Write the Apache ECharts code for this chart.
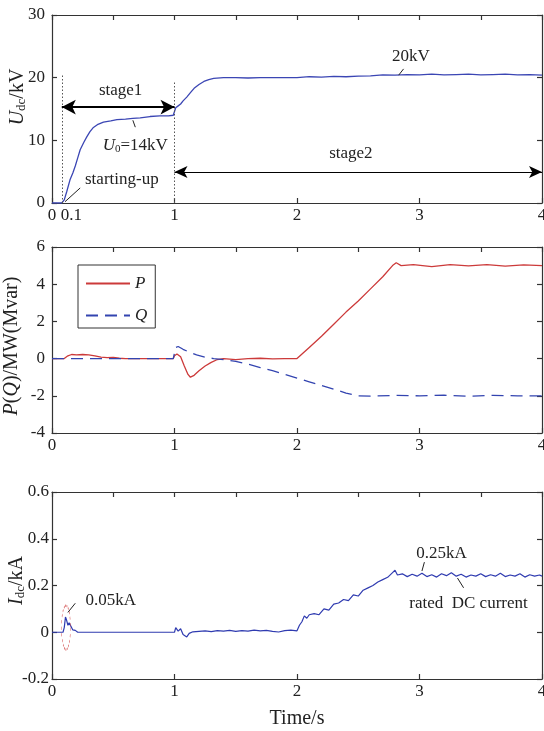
<!DOCTYPE html>
<html>
<head>
<meta charset="utf-8">
<script src="https://cdn.jsdelivr.net/npm/echarts@6/dist/echarts.min.js"></script>
<style>
  html, body { margin: 0; padding: 0; background: #fff; }
  #chart { width: 544px; height: 731px; }
</style>
</head>
<body>
<div id="chart"></div>
<script>
// Udc (kV) over time (s)
const udcTime = [0, 0.08, 0.1, 0.12, 0.147, 0.17, 0.19, 0.21, 0.23, 0.26, 0.285, 0.31, 0.335, 0.37, 0.42, 0.48, 0.53, 0.6, 0.66, 0.72, 0.8, 0.88, 0.95, 0.99,
  1.0, 1.01, 1.03, 1.05, 1.07, 1.1, 1.13, 1.16, 1.2, 1.24, 1.28, 1.32, 1.4, 1.5, 1.6, 1.7, 1.8, 1.9,
  2.0, 2.1, 2.2, 2.3, 2.4, 2.5, 2.6, 2.7, 2.8, 2.9, 3.0, 3.1, 3.2, 3.3, 3.4, 3.5, 3.6, 3.7, 3.8, 3.9, 4.0];
const udcValue = [0, 0, 0.5, 1.8, 3.7, 4.8, 5.9, 7.2, 8.5, 9.7, 10.6, 11.4, 12.0, 12.5, 12.9, 13.1, 13.3, 13.4, 13.5, 13.6, 13.8, 13.9, 13.9, 14.0,
  14.6, 15.2, 15.5, 15.8, 16.3, 16.9, 17.6, 18.3, 18.9, 19.4, 19.7, 19.9, 20.0, 20.0, 19.95, 20.0, 20.0, 20.0,
  20.0, 20.15, 20.1, 20.2, 20.15, 20.25, 20.3, 20.45, 20.4, 20.5, 20.45, 20.55, 20.45, 20.5, 20.55, 20.45, 20.5, 20.55, 20.45, 20.5, 20.4];

// P (MW) and Q (Mvar)
const pTime = [0, 0.1, 0.13, 0.16, 0.2, 0.25, 0.3, 0.35, 0.4, 0.45, 0.5, 0.55, 0.6, 0.99, 1.0, 1.02, 1.05, 1.08, 1.11, 1.13, 1.16, 1.2, 1.25, 1.3, 1.35, 1.4,
  1.5, 1.6, 1.7, 1.8, 1.9, 2.0, 2.05, 2.1, 2.2, 2.3, 2.4, 2.5, 2.6, 2.7, 2.78, 2.81, 2.85, 2.95, 3.1, 3.25, 3.4, 3.55, 3.7, 3.85, 4.0];
const pValue = [0, 0, 0.15, 0.22, 0.2, 0.22, 0.2, 0.15, 0.08, 0.05, 0.06, 0.02, 0, 0, 0.15, 0.25, 0.1, -0.4, -0.85, -1.0, -0.9, -0.65, -0.4, -0.2, -0.05, 0,
  -0.05, 0, 0.02, -0.02, 0, 0, 0.3, 0.6, 1.2, 1.85, 2.5, 3.1, 3.75, 4.4, 5.0, 5.15, 5.0, 5.05, 4.95, 5.05, 4.98, 5.05, 4.97, 5.04, 5.0];
const qTime = [0, 0.99, 1.01, 1.03, 1.07, 1.12, 1.18, 1.25, 1.32, 1.4, 1.5, 1.6, 1.7, 1.8, 1.9, 2.0, 2.1, 2.2, 2.3, 2.4, 2.5, 2.6, 2.8, 3.0, 3.2, 3.4, 3.6, 3.8, 4.0];
const qValue = [0, 0, 0.6, 0.65, 0.5, 0.35, 0.2, 0.08, 0, -0.05, -0.15, -0.3, -0.48, -0.65, -0.85, -1.05, -1.25, -1.45, -1.65, -1.85, -2.0, -2.02, -1.98, -2.0, -1.97, -2.02, -1.98, -2.0, -2.0];

// Idc (kA)
const idcTime = [0, 0.09, 0.1, 0.11, 0.12, 0.13, 0.14, 0.15, 0.17, 0.19, 0.21, 1.0, 1.01, 1.03, 1.05, 1.07, 1.1, 1.12, 1.15,
  1.2, 1.25, 1.3, 1.35, 1.4, 1.45, 1.5, 1.55, 1.6, 1.65, 1.7, 1.75, 1.8, 1.85, 1.9, 1.95, 2.0,
  2.02, 2.04, 2.06, 2.08, 2.1, 2.14, 2.18, 2.22, 2.26, 2.3, 2.34, 2.38, 2.42, 2.46, 2.5, 2.54, 2.58, 2.62, 2.66, 2.7, 2.74, 2.78, 2.8,
  2.82, 2.86, 2.9, 2.94, 2.98, 3.02, 3.06, 3.1, 3.14, 3.18, 3.22, 3.26, 3.3, 3.34, 3.38, 3.42, 3.46, 3.5, 3.54, 3.58, 3.62, 3.66, 3.7, 3.74, 3.78, 3.82, 3.86, 3.9, 3.94, 3.98, 4.0];
const idcValue = [0, 0, 0.02, 0.065, 0.05, 0.03, 0.04, 0.035, 0.01, 0.008, 0, 0, 0.02, 0.005, 0.015, -0.01, -0.02, -0.005, 0.002,
  0.004, 0.006, 0.003, 0.007, 0.005, 0.008, 0.004, 0.007, 0.005, 0.009, 0.006, 0.008, 0.004, 0.001, 0.007, 0.009, 0.006,
  0.03, 0.045, 0.07, 0.06, 0.075, 0.08, 0.075, 0.1, 0.095, 0.12, 0.125, 0.14, 0.135, 0.16, 0.155, 0.18, 0.19, 0.2, 0.215, 0.225, 0.235, 0.255, 0.265,
  0.245, 0.25, 0.238, 0.248, 0.24, 0.252, 0.238, 0.246, 0.236, 0.25, 0.242, 0.255, 0.24, 0.248, 0.236, 0.245, 0.24, 0.25, 0.238, 0.246, 0.24, 0.252, 0.238, 0.245, 0.24, 0.25, 0.236, 0.246, 0.24, 0.245, 0.24];

const xLabelsTop = [0, 0.1, 1, 2, 3, 4];

const pairs = (t, v) => t.map((x, i) => [x, v[i]]);

const serif = 'Liberation Serif';
const ink = '#222';
const axisLineStyle = { color: '#333', width: 1.2 };

function xAxes(grid, labelOpts, name) {
  return [
    {
      type: 'value', gridIndex: grid, position: 'bottom', min: 0, max: 4, interval: 1,
      axisLine: { onZero: false, lineStyle: axisLineStyle },
      axisTick: { inside: true, length: 5, lineStyle: axisLineStyle },
      axisLabel: Object.assign({ color: ink, fontFamily: serif, fontSize: 17, margin: 4 }, labelOpts || {}),
      splitLine: { show: false },
      name: name || '', nameLocation: 'middle', nameGap: 30, nameMoveOverlap: false,
      nameTextStyle: { color: ink, fontFamily: serif, fontSize: 20 }
    },
    {
      type: 'value', gridIndex: grid, position: 'top', min: 0, max: 4, interval: 0.5,
      axisLine: { onZero: false, lineStyle: axisLineStyle },
      axisTick: { inside: true, length: 5, lineStyle: axisLineStyle },
      axisLabel: { show: false },
      splitLine: { show: false }
    }
  ];
}

const richName = {
  n: { fontFamily: serif, fontSize: 20, color: ink, lineHeight: 20 },
  i: { fontFamily: serif, fontSize: 20, color: ink, fontStyle: 'italic', lineHeight: 20 },
  s: { fontFamily: serif, fontSize: 13, color: ink, lineHeight: 13, verticalAlign: 'bottom' }
};

const richAnn = {
  n: { fontFamily: serif, fontSize: 17, color: ink, lineHeight: 18 },
  i: { fontFamily: serif, fontSize: 17, color: ink, fontStyle: 'italic', lineHeight: 18 },
  s: { fontFamily: serif, fontSize: 11, color: ink, lineHeight: 11, verticalAlign: 'bottom' }
};

function yAxes(grid, min, max, interval, name, gap, margin, pad) {
  return [
    {
      type: 'value', gridIndex: grid, position: 'left', min, max, interval,
      axisLine: { onZero: false, lineStyle: axisLineStyle },
      axisTick: { inside: true, length: 5, lineStyle: axisLineStyle },
      axisLabel: { color: ink, fontFamily: serif, fontSize: 17, margin },
      splitLine: { show: false },
      name, nameLocation: 'middle', nameGap: gap, nameRotate: 90, nameMoveOverlap: false,
      nameTextStyle: { rich: richName, padding: pad }
    },
    {
      type: 'value', gridIndex: grid, position: 'right', min, max, interval,
      axisLine: { onZero: false, lineStyle: axisLineStyle },
      axisTick: { inside: true, length: 5, lineStyle: axisLineStyle },
      axisLabel: { show: false },
      splitLine: { show: false }
    }
  ];
}

const annText = { fontFamily: serif, fontSize: 17, color: ink };

function textMark(coord, text, rich) {
  return {
    coord, symbol: 'rect', symbolSize: 1,
    itemStyle: { color: 'transparent' },
    label: Object.assign({ show: true, position: 'inside', formatter: text, rich: rich || {} }, annText)
  };
}

function seg(a, b, style, symA, symB, size) {
  return [
    { coord: a, symbol: symA || 'none', symbolSize: size || 0, lineStyle: style },
    { coord: b, symbol: symB || 'none', symbolSize: size || 0, lineStyle: style }
  ];
}

const leader = { color: '#222', width: 1, type: 'solid' };
const dotted = { color: '#555', width: 1, type: [1.5, 2] };

const chart = echarts.init(document.getElementById('chart'));

const gridBase = { outerBoundsMode: 'none', containLabel: false };

chart.setOption({
  animation: false,
  backgroundColor: '#fff',
  grid: [
    Object.assign({ left: 52, top: 15, width: 490, height: 188 }, gridBase),
    Object.assign({ left: 52, top: 247, width: 490, height: 186 }, gridBase),
    Object.assign({ left: 52, top: 492, width: 490, height: 187 }, gridBase)
  ],
  legend: {
    data: ['P', 'Q'],
    orient: 'vertical',
    left: 78, top: 265,
    itemWidth: 44, itemHeight: 14, itemGap: 15,
    padding: [10, 8, 4, 7],
    borderColor: '#333', borderWidth: 1,
    itemStyle: { opacity: 0 },
    textStyle: { fontFamily: serif, fontSize: 17, fontStyle: 'italic', color: ink }
  },
  xAxis: [
    ...xAxes(0, {
      customValues: xLabelsTop,
      formatter: v => (Math.abs(v - 0.1) < 1e-6 ? '{a|0.1}' : String(v)),
      rich: { a: { fontFamily: serif, fontSize: 17, color: ink, padding: [0, 0, 0, 14] } }
    }),
    ...xAxes(1),
    ...xAxes(2, null, 'Time/s')
  ],
  yAxis: [
    ...yAxes(0, 0, 30, 10, '{i|U}{s|dc}{n|/kV}', 24, 7, [0, 0, 0, 24]),
    ...yAxes(1, -4, 6, 2, '{i|P}{n|(}{i|Q}{n|)/MW(Mvar)}', 30, 7, [0, 12, 0, 0]),
    ...yAxes(2, -0.2, 0.6, 0.2, '{i|I}{s|dc}{n|/kA}', 25, 3, [0, 0, 0, 10])
  ],
  series: [
    {
      name: 'Udc', type: 'line', xAxisIndex: 0, yAxisIndex: 0,
      data: pairs(udcTime, udcValue),
      symbol: 'none', lineStyle: { color: '#3b46b4', width: 1.3 },
      markLine: {
        silent: true, symbol: ['none', 'none'], label: { show: false },
        data: [
          seg([0.08, 0], [0.08, 20.4], dotted),
          seg([1, 0], [1, 19.4], dotted),
          seg([0.08, 15.3], [1, 15.3], { color: '#000', width: 2, type: 'solid' }, 'arrow', 'arrow', [11, 14]),
          seg([1, 4.95], [4, 4.95], { color: '#000', width: 1, type: 'solid' }, 'arrow', 'arrow', [9, 13]),
          seg([0.66, 13.2], [0.68, 12.1], leader),
          seg([0.23, 2.4], [0.106, 0.2], leader),
          seg([2.87, 21.4], [2.83, 20.4], leader)
        ]
      },
      markPoint: {
        silent: true,
        data: [
          textMark([0.56, 18.0], 'stage1'),
          textMark([0.68, 9.2], '{i|U}{s|0}{n|=14kV}', richAnn),
          textMark([0.57, 3.7], 'starting-up'),
          textMark([2.44, 7.9], 'stage2'),
          textMark([2.93, 23.4], '20kV')
        ]
      }
    },
    {
      name: 'P', type: 'line', xAxisIndex: 2, yAxisIndex: 2,
      data: pairs(pTime, pValue),
      symbol: 'none', itemStyle: { color: '#cc3a3a' }, lineStyle: { color: '#cc3a3a', width: 1.3 }
    },
    {
      name: 'Q', type: 'line', xAxisIndex: 2, yAxisIndex: 2,
      data: pairs(qTime, qValue),
      symbol: 'none', itemStyle: { color: '#3344b0' }, lineStyle: { color: '#3344b0', width: 1.3, type: [12, 7] }
    },
    {
      name: 'Idc', type: 'line', xAxisIndex: 4, yAxisIndex: 4,
      data: pairs(idcTime, idcValue),
      symbol: 'none', lineStyle: { color: '#2f3bb0', width: 1.2 },
      markLine: {
        silent: true, symbol: ['none', 'none'], label: { show: false },
        data: [
          seg([0.19, 0.124], [0.13, 0.085], leader),
          seg([3.04, 0.3], [3.02, 0.262], leader),
          seg([3.36, 0.19], [3.31, 0.232], leader)
        ]
      },
      markPoint: {
        silent: true,
        data: [
          {
            coord: [0.114, 0.02], symbol: 'circle', symbolSize: [9, 44],
            itemStyle: { color: 'transparent', borderColor: '#d04848', borderWidth: 1, borderType: [1.5, 1.5] },
            label: { show: false }
          },
          textMark([0.48, 0.137], '0.05kA'),
          textMark([3.18, 0.338], '0.25kA'),
          textMark([3.4, 0.124], 'rated  DC current')
        ]
      }
    }
  ]
});

window.addEventListener('resize', () => chart.resize());
</script>
</body>
</html>
